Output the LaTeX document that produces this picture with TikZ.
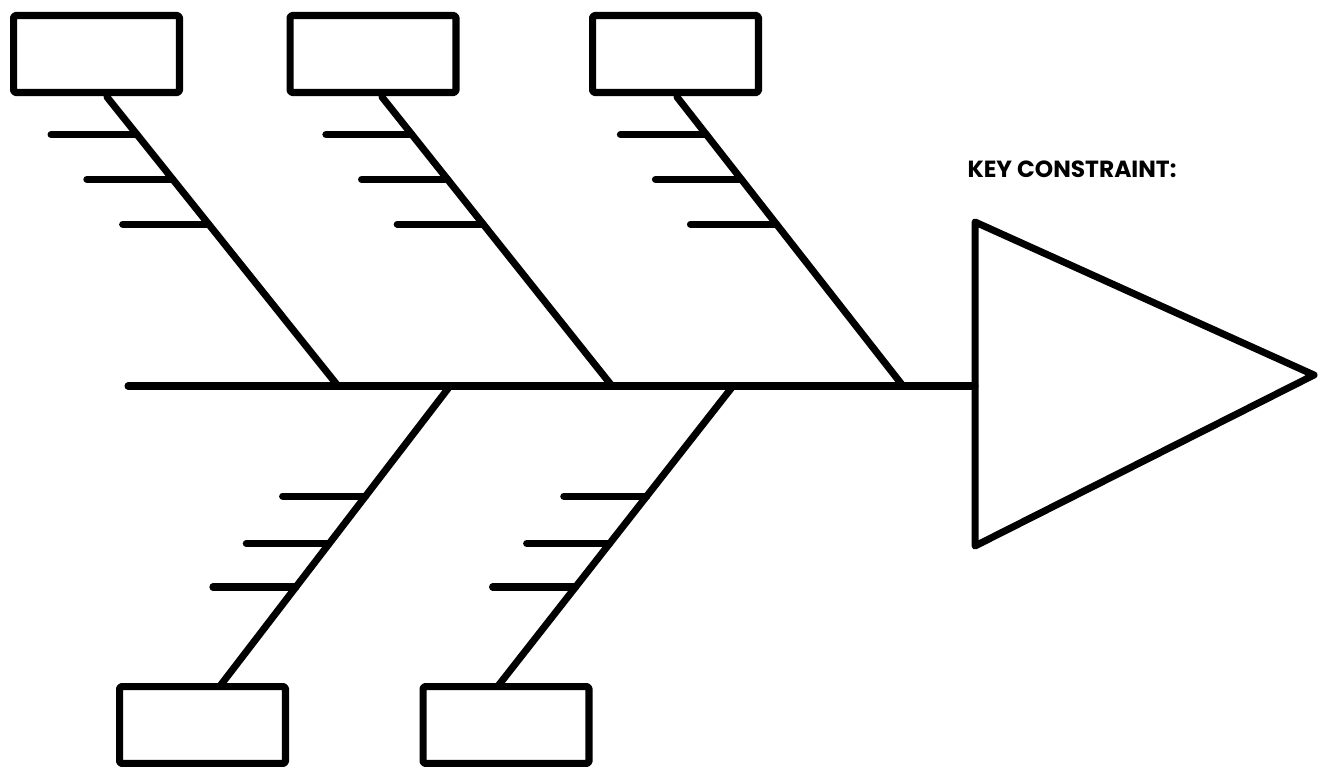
\documentclass[tikz,border=0pt]{standalone}
\usepackage{fontspec}
\newfontfamily\keyfont{Poppins}
\usetikzlibrary{calc,positioning}

\begin{document}
\begin{tikzpicture}[x=0.02cm,y=-0.02cm,line width=4pt,line cap=round,line join=round,
  cause/.style={draw,line width=4pt,rounded corners=1pt,minimum width=3.32cm,minimum height=1.54cm,inner sep=0pt},
  keylabel/.style={anchor=base west,inner sep=0pt,font=\keyfont\bfseries\fontsize{13.3}{15}\selectfont}]
\useasboundingbox (0,0) rectangle (1328,767);
% cause boxes
\node[cause] (top1) at (96.5,54) {};
\node[cause] (top2) at (373,54) {};
\node[cause] (top3) at (675.5,54) {};
\node[cause] (bot1) at (202.5,725) {};
\node[cause] (bot2) at (506,725) {};
% head of the fish
\coordinate (headtop) at (975,222);
\coordinate (headtip) at (1314,375);
\coordinate (headbot) at (975,546);
\coordinate (tail) at (128,386);
\coordinate (neck) at (975,386);
\draw (headtop) -- (headtip) -- (headbot) -- cycle;
\draw (tail) -- (neck);
\node[keylabel] (key) at (964,177) {KEY CONSTRAINT:};
% upper bones
\foreach \b/\s/\j in {top1/107/338,top2/382/612,top3/677/903}{
  \coordinate (\b-s) at (\s,97);
  \coordinate (\b-j) at (\j,386);
  \draw (\b-s) -- (\b-j);
  \foreach \f in {0.13,0.285,0.44}
    \draw ($(\b-s)!\f!(\b-j)$) -- ++(-86,0);
}
% lower bones
\foreach \b/\s/\j in {bot1/220/450,bot2/498/733}{
  \coordinate (\b-s) at (\s,686);
  \coordinate (\b-j) at (\j,386);
  \draw (\b-j) -- (\b-s);
  \foreach \f in {0.367,0.525,0.67}
    \draw ($(\b-j)!\f!(\b-s)$) -- ++(-83,0);
}
\end{tikzpicture}
\end{document}
